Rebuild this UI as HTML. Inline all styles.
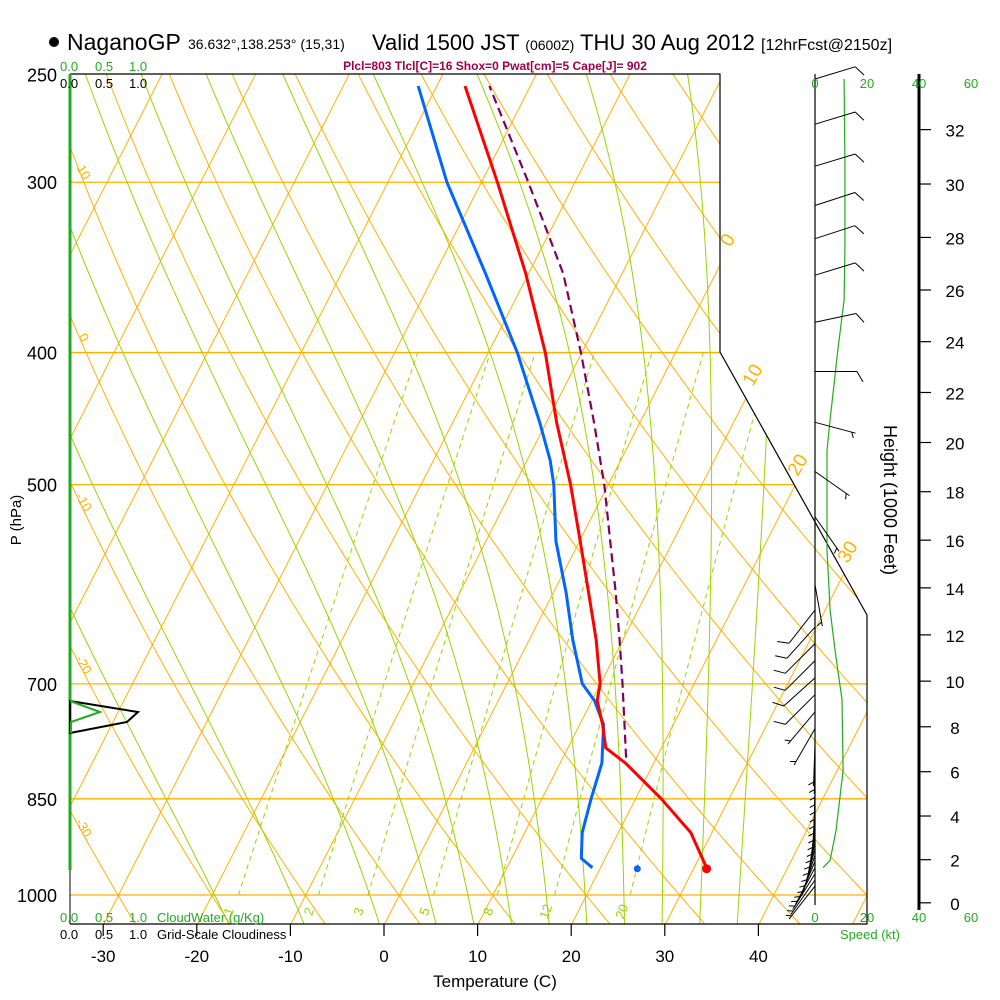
<!DOCTYPE html>
<html><head><meta charset="utf-8">
<style>
html,body{margin:0;padding:0;background:#fff;}
svg{display:block;font-family:"Liberation Sans",Arial,sans-serif;}
</style></head>
<body>
<svg id="chart" width="1000" height="1000" viewBox="0 0 1000 1000" xmlns="http://www.w3.org/2000/svg">
<defs><clipPath id="plotclip"><polygon points="70,74 720,74 720,352 867,615 867,924 70,924"/></clipPath></defs>
<rect width="1000" height="1000" fill="#fff"/>
<g id="bg" clip-path="url(#plotclip)"></g>
<g id="marks"></g>
<g id="txt">
  <circle cx="54" cy="42" r="5" fill="#000"/>
  <text x="67" y="50" font-size="23">NaganoGP</text>
  <text x="188" y="49" font-size="14">36.632°,138.253° (15,31)</text>
  <text x="372" y="50" font-size="22">Valid 1500 JST <tspan font-size="14">(0600Z)</tspan> THU 30 Aug 2012 <tspan font-size="16">[12hrFcst@2150z]</tspan></text>
  <text x="495" y="70" font-size="12" font-weight="bold" fill="#a0004a" text-anchor="middle">Plcl=803 Tlcl[C]=16 Shox=0 Pwat[cm]=5 Cape[J]= 902</text>
  <text x="60" y="71" font-size="13" fill="#22aa22"><tspan x="60">0.0</tspan><tspan x="95">0.5</tspan><tspan x="129">1.0</tspan></text>
  <text x="60" y="88" font-size="13" fill="#000"><tspan x="60">0.0</tspan><tspan x="95">0.5</tspan><tspan x="129">1.0</tspan></text>
  <text x="60" y="922" font-size="13" fill="#22aa22"><tspan x="60">0.0</tspan><tspan x="95">0.5</tspan><tspan x="129">1.0</tspan><tspan x="157">CloudWater (g/Kg)</tspan></text>
  <text x="60" y="939" font-size="13" fill="#000"><tspan x="60">0.0</tspan><tspan x="95">0.5</tspan><tspan x="129">1.0</tspan><tspan x="157">Grid-Scale Cloudiness</tspan></text>
  <text x="495" y="987" font-size="17" text-anchor="middle">Temperature (C)</text>
  <text x="0" y="0" font-size="15" text-anchor="middle" transform="translate(21,520) rotate(-90)">P (hPa)</text>
  <text x="0" y="0" font-size="18" text-anchor="middle" transform="translate(884,500) rotate(90)">Height (1000 Feet)</text>
  <text x="870" y="939" font-size="13" fill="#22aa22" text-anchor="middle">Speed (kt)</text>
</g>
<script>
// ---- data ----
const isobarLevels=[250,300,400,500,700,850,1000];
const tempTicks=[-30,-20,-10,0,10,20,30,40];
const profP=[255,300,350,400,450,500,550,600,650,700,720,750,780,800,850,900,955];
const tempC=[-37.0,-28.3,-20.3,-13.9,-8.9,-4.0,0.1,3.8,7.2,10.0,10.6,12.5,14.1,17.0,22.8,27.8,31.4];
const dewP=[255,300,350,400,450,480,500,550,600,650,700,720,750,800,850,900,940,955];
const dewC=[-42,-33.7,-24.6,-16.9,-10.7,-7.5,-5.8,-2.5,1.4,4.7,8.1,10.3,12.6,14.5,15.3,16.2,17.5,19.2];
const parcelP=[793,700,650,600,550,500,450,400,350,300,255];
const parcelC=[16.8,12.4,9.7,6.7,3.3,-0.4,-4.9,-10.1,-16.3,-25.0,-34.4];
const sfcTemp=[955,31.4];
const sfcDew=[955,24.0];
const mixRatios=[1,2,3,5,8,12,20];
const heightTicks=[0,2,4,6,8,10,12,14,16,18,20,22,24,26,28,30,32];
const speedP=[252,289,336,366,398,448,472,558,618,661,719,810,896,943,955];
const speedKt=[11.2,11.5,11.5,11.2,8.8,5.8,4.6,4.6,5.8,7.7,10.4,10.8,8.1,5.8,3.1];
const barbP=[252,272,292,312,330,351,380,413,450,489,528,592,618,636,654,673,693,713,734,755,775,785,795,805,815,825,835,845,855,865,875,885,895,905,915,925,935,945,955,965,975,985];
const barbDir=[73,73,73,72,72,73,78,90,105,125,145,170,218,222,225,225,228,225,220,210,182,181,180,180,180,180,181,182,182,183,184,186,188,190,192,195,198,203,208,212,215,218];
const barbKt=[10,10,10,10,10,10,10,10,5,5,5,5,10,10,10,10,10,10,5,5,5,5,5,5,5,5,5,5,5,5,5,5,5,5,5,5,5,5,5,5,5,5];
const dryThetas=[-60,-50,-40,-30,-20,-10,0,10,20,30,40,50,60,70,80,90,100,110,120,130,140,150,160];
const moistStarts=[-16,-8,0,6,10,14,18,22,26,30,34,38];

// ---- axes ----
function Y(p){return 895-592*Math.log(1000/p);}
function X(T,p){return 384+9.36*T+0.51*(924-Y(p));}
function SX(kt){return 815+2.6*kt;}
const NS='http://www.w3.org/2000/svg';
const bg=document.getElementById('bg'), mk=document.getElementById('marks'), tx=document.getElementById('txt');
function el(tag,attrs,parent){const e=document.createElementNS(NS,tag);for(const k in attrs)e.setAttribute(k,attrs[k]);parent.appendChild(e);return e;}
function pts(arr){return arr.map(a=>a[0].toFixed(1)+','+a[1].toFixed(1)).join(' ');}
const ORANGE='#ffb000', MGREEN='#99d400';

// isobars
isobarLevels.forEach(p=>{
  const t=el('text',{x:57,y:Y(p)+7,'font-size':18,'text-anchor':'end'},tx);
  t.textContent=p;
  
  
  if(p===250) return;
  const l=el('line',{x1:70,x2:900,y1:Y(p),y2:Y(p),stroke:ORANGE,'stroke-width':1.3},bg);
  
  
});
// isotherms
for(let T=-120;T<=60;T+=10){
  const l=el('line',{x1:X(T,1048),y1:924,x2:X(T,250),y2:74,stroke:ORANGE,'stroke-width':1},bg);
  
  
}
// dry adiabats
dryThetas.forEach(th=>{
  const a=[];
  for(let p=1060;p>=245;p-=10){const T=(th+273.15)*Math.pow(p/1000,0.286)-273.15;a.push([X(T,p),Y(p)]);}
  const l=el('polyline',{points:pts(a),fill:'none',stroke:ORANGE,'stroke-width':1},bg);
  
  
});
// moist adiabats
function dTdp(Tk,p){const es=6.112*Math.exp(17.67*(Tk-273.15)/(Tk-29.65));const rs=0.622*es/(p-es);const Rd=287,cp=1004,L=2.5e6;return (Rd*Tk+L*rs)/(p*(cp+L*L*rs*0.622/(Rd*Tk*Tk)));}
moistStarts.forEach(t0=>{
  let Tk=t0+273.15;const a=[];
  for(let p=1060;p>=245;p-=5){a.push([X(Tk-273.15,p),Y(p)]);Tk-=dTdp(Tk,p)*5;}
  const l=el('polyline',{points:pts(a),fill:'none',stroke:MGREEN,'stroke-width':1},bg);
  
  
});
// mixing ratio lines
function tdFromW(w,p){const e=w*p/(622+w);const g=Math.log(e/6.112);return 243.5*g/(17.67-g);}
mixRatios.forEach(w=>{
  const a=[];
  for(let p=1000;p>=400;p-=10)a.push([X(tdFromW(w,p),p),Y(p)]);
  const l=el('polyline',{points:pts(a),fill:'none',stroke:MGREEN,'stroke-width':1,'stroke-dasharray':'5,4'},bg);
  
  
  const x=X(tdFromW(w,1030),1030);
  const t=el('text',{x:0,y:0,'font-size':13,fill:MGREEN,'text-anchor':'middle',transform:'translate('+x.toFixed(1)+',913) rotate(-70)'},tx);
  t.textContent=w;
  
  
});
// dry adiabat labels on left edge
[-30,-20,-10,0,10].forEach(th=>{
  let best=null;
  for(let p=1000;p>=250;p-=1){const T=(th+273.15)*Math.pow(p/1000,0.286)-273.15;if(X(T,p)<=80){best=p;break;}}
  if(!best)return;
  const t=el('text',{x:0,y:0,'font-size':13,fill:ORANGE,'text-anchor':'middle',transform:'translate(80,'+(Y(best)+2).toFixed(1)+') rotate(60)'},tx);
  t.textContent=th;
  
  
});
// isotherm labels on right boundary
[[0,733,243],[10,758,378],[20,803,468],[30,853,555]].forEach(d=>{
  const t=el('text',{x:0,y:0,'font-size':19,fill:ORANGE,'text-anchor':'middle',transform:'translate('+d[1]+','+d[2]+') rotate(-60)'},tx);
  t.textContent=d[0];
  
  
});

// frame
el('polyline',{points:'70,74 720,74 720,352 867,615 867,924 70,924',fill:'none',stroke:'#000','stroke-width':1.2},mk);
el('line',{x1:70,y1:74,x2:70,y2:870,stroke:'#22aa22','stroke-width':3},mk);
el('line',{x1:70,y1:870,x2:70,y2:924,stroke:'#000','stroke-width':1},mk);
// bottom ticks + labels
tempTicks.forEach(T=>{
  el('line',{x1:384+9.36*T,x2:384+9.36*T,y1:924,y2:936,stroke:'#000','stroke-width':1.2},mk);
  const t=el('text',{x:384+9.36*T,y:962,'font-size':17,'text-anchor':'middle'},tx);
  t.textContent=T;
  
  
});
// cloud indicator
el('polygon',{points:'70,701 138,712 127,722 70,733',fill:'none',stroke:'#000','stroke-width':2},mk);
el('polyline',{points:'70,701 100,712 71,722 71,733',fill:'none',stroke:'#22aa22','stroke-width':2},mk);

// profiles
function prof(P,C){return P.map((p,i)=>[X(C[i],p),Y(p)]);}
let s=el('polyline',{points:pts(prof(parcelP,parcelC)),fill:'none',stroke:'#800060','stroke-width':2.2,'stroke-dasharray':'9,5'},mk);


s=el('polyline',{points:pts(prof(dewP,dewC)),fill:'none',stroke:'#0066ff','stroke-width':3,'stroke-linejoin':'round'},mk);


s=el('polyline',{points:pts(prof(profP,tempC)),fill:'none',stroke:'#ff0000','stroke-width':3,'stroke-linejoin':'round'},mk);


s=el('circle',{cx:X(sfcTemp[1],sfcTemp[0]),cy:Y(sfcTemp[0])+1,r:4.5,fill:'#ff0000'},mk);


s=el('circle',{cx:X(sfcDew[1],sfcDew[0]),cy:Y(sfcDew[0])+1,r:3.5,fill:'#0066ff'},mk);



// height axis
el('line',{x1:919,y1:74,x2:919,y2:910,stroke:'#000','stroke-width':3},mk);
heightTicks.forEach(h=>{
  const p=1013.25*Math.pow(1-0.0000225577*h*304.8,5.25588);
  const y=Y(p);
  el('line',{x1:919,x2:931,y1:y,y2:y,stroke:'#000','stroke-width':1.2},mk);
  const t=el('text',{x:955,y:y+7,'font-size':17,'text-anchor':'middle'},tx);
  t.textContent=h;
  
  
});
// speed axis labels
[0,20,40,60].forEach(v=>{
  [88,922].forEach(yy=>{
    const t=el('text',{x:SX(v),y:yy,'font-size':13,fill:'#22aa22','text-anchor':'middle'},tx);
    t.textContent=v;
    
    
  });
});
el('line',{x1:815,y1:74,x2:815,y2:905,stroke:'#000','stroke-width':1.2},mk);
s=el('polyline',{points:pts(speedP.map((p,i)=>[SX(speedKt[i]),Y(p)])),fill:'none',stroke:'#22aa22','stroke-width':1.2},mk);


// wind barbs
barbP.forEach((p,i)=>{
  const y=Y(p), a=(barbDir[i]-90)*Math.PI/180, L=42;
  const ux=Math.cos(a), uy=Math.sin(a);
  const tx_=815+ux*L, ty=y+uy*L;
  const fa=a+Math.PI/3, fl=barbKt[i]>=10?12:6;
  const off=barbKt[i]>=10?0:4;
  const bx=815+ux*(L-off), by=y+uy*(L-off);
  const g=el('path',{d:'M815,'+y.toFixed(1)+' L'+tx_.toFixed(1)+','+ty.toFixed(1)+' M'+bx.toFixed(1)+','+by.toFixed(1)+' l'+(Math.cos(fa)*fl).toFixed(1)+','+(Math.sin(fa)*fl).toFixed(1),fill:'none',stroke:'#000','stroke-width':1},mk);
  
  
});
</script>
</svg>
</body></html>
